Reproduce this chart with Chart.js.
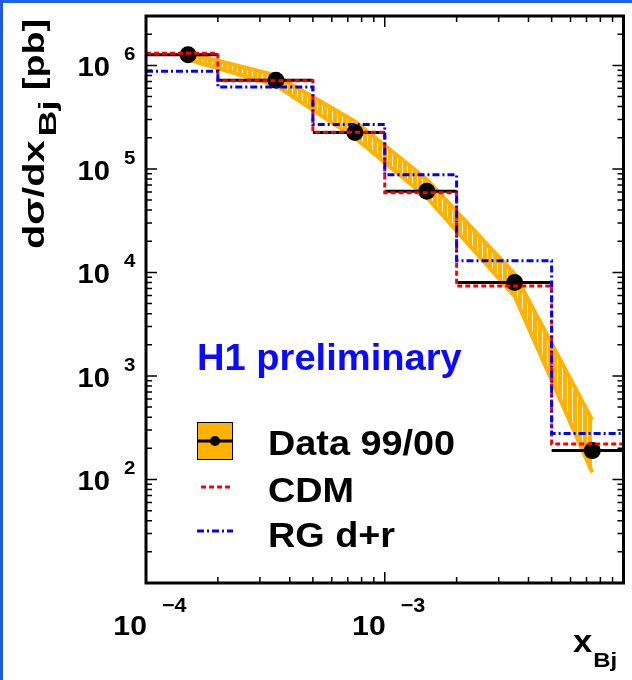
<!DOCTYPE html>
<html>
<head>
<meta charset="utf-8">
<script src="https://cdn.jsdelivr.net/npm/chart.js@4.4.1/dist/chart.umd.min.js"></script>
<style>
  html, body { margin: 0; padding: 0; background: #fff; }
  #wrap { width: 632px; height: 680px; }
</style>
</head>
<body>
<div id="wrap"><canvas id="xsec" width="632" height="680"></canvas></div>
<script>
// bins in x_Bj and the cross sections per bin (pb)
const binEdges = [1e-4, 2e-4, 5e-4, 1e-3, 2e-3, 5e-3, 1e-2];
const dataX = [1.5e-4, 3.5e-4, 7.5e-4, 1.5e-3, 3.5e-3, 7.4e-3];
const dataY = [1.27e6, 7.2e5, 2.25e5, 6.1e4, 8.0e3, 190];
// uncertainty band through the data points
const bandUp = [1.31e6, 8.0e5, 2.87e5, 7.9e4, 9.7e3, 374];
const bandLow = [1.14e6, 6.4e5, 2.0e5, 5.3e4, 5.9e3, 117];
// model predictions
const cdm = [1.31e6, 7.1e5, 2.26e5, 5.9e4, 7.4e3, 220];
const rgdr = [8.8e5, 6.2e5, 2.69e5, 8.8e4, 1.30e4, 278];
// decades that get a label
const xExps = [-4, -3];
const yExps = [2, 3, 4, 5, 6];

const ORANGE = '#ffb300';
const FONT = '"Liberation Sans", Arial, sans-serif';

const ctx = document.getElementById('xsec').getContext('2d');

function hatch() {
    const c = document.createElement('canvas');
    c.width = 5; c.height = 4;
    const g = c.getContext('2d');
    g.fillStyle = ORANGE;
    g.fillRect(0, 0, 5, 4);
    g.fillStyle = '#fff4dc';
    g.fillRect(2, 0, 1, 4);
    return ctx.createPattern(c, 'repeat');
}

// histogram outline: point at every left edge plus the last right edge
function steps(vals) {
    const pts = vals.map((v, i) => ({ x: binEdges[i], y: v }));
    pts.push({ x: binEdges[binEdges.length - 1], y: vals[vals.length - 1] });
    return pts;
}

// separate horizontal bars, one per bin
function bars(vals) {
    const pts = [];
    vals.forEach((v, i) => {
        pts.push({ x: binEdges[i], y: v }, { x: binEdges[i + 1], y: v }, { x: binEdges[i + 1], y: null });
    });
    return pts;
}

function txt(s, x, y, size, o) {
    o = o || {};
    const sx = o.sx || 1.08;
    ctx.save();
    ctx.translate(x, y);
    if (o.rot) ctx.rotate(o.rot);
    ctx.scale(sx, 1);
    ctx.font = 'bold ' + size + 'px ' + FONT;
    ctx.textAlign = o.align || 'left';
    ctx.textBaseline = 'alphabetic';
    ctx.fillStyle = o.color || '#000';
    ctx.fillText(s, 0, 0);
    const w = ctx.measureText(s).width * sx;
    ctx.restore();
    return w;
}

const frame = {
    id: 'frame',
    afterDraw(chart) {
        const a = chart.chartArea;
        const xs = chart.scales.x, ys = chart.scales.y;

        // page border
        ctx.save();
        ctx.fillStyle = '#1a62ff';
        ctx.fillRect(0, 0, 632, 3);
        ctx.fillStyle = '#2458e0';
        ctx.fillRect(0, 0, 3, 680);

        // inward ticks on all four sides
        ctx.strokeStyle = '#000';
        ctx.lineWidth = 1.5;
        ctx.beginPath();
        for (let e = -4; e <= -2; e++) {
            for (let m = 1; m <= 9; m++) {
                const v = m * Math.pow(10, e);
                if (v < xs.min || v > xs.max) continue;
                const px = xs.getPixelForValue(v);
                const len = m === 1 ? 11 : 6;
                ctx.moveTo(px, a.bottom); ctx.lineTo(px, a.bottom - len);
                ctx.moveTo(px, a.top); ctx.lineTo(px, a.top + len);
            }
        }
        for (let e = 1; e <= 6; e++) {
            for (let m = 1; m <= 9; m++) {
                const v = m * Math.pow(10, e);
                if (v < ys.min || v > ys.max) continue;
                const py = ys.getPixelForValue(v);
                const len = m === 1 ? 11 : 6;
                ctx.moveTo(a.left, py); ctx.lineTo(a.left + len, py);
                ctx.moveTo(a.right, py); ctx.lineTo(a.right - len, py);
            }
        }
        ctx.stroke();

        ctx.lineWidth = 3;
        ctx.strokeRect(a.left, a.top, a.right - a.left, a.bottom - a.top);
        ctx.restore();

        // tick labels
        yExps.forEach(e => {
            const py = ys.getPixelForValue(Math.pow(10, e));
            txt('10', 110, py + 11, 27, { align: 'right' });
            txt(String(e), 124, py - 5, 19);
        });
        xExps.forEach(e => {
            const px = xs.getPixelForValue(Math.pow(10, e));
            txt('10', px + 1, 635, 28, { align: 'right' });
            txt('\u2212' + Math.abs(e), px + 16, 612, 20);
        });

        // axis titles
        const rot = -Math.PI / 2;
        let off = 249;
        off -= txt('d\u03c3/dx', 44, off, 30, { rot, sx: 1.32 });
        off -= txt('Bj', 56, off - 4, 24, { rot, sx: 1.5 }) + 4;
        txt(' [pb]', 44, off, 29, { rot, sx: 1.3 });

        const w = txt('x', 573, 652, 32);
        txt('Bj', 573 + w + 1, 667, 20, { sx: 1.2 });

        txt('H1 preliminary', 197, 370, 37, { color: '#0a0aff', sx: 1.03 });

        // legend
        ctx.save();
        ctx.fillStyle = ORANGE;
        ctx.fillRect(197, 422, 36, 38);
        ctx.strokeStyle = '#000';
        ctx.lineWidth = 1;
        ctx.strokeRect(197.5, 422.5, 35, 37);
        ctx.lineWidth = 3;
        ctx.beginPath();
        ctx.moveTo(197, 441); ctx.lineTo(233, 441);
        ctx.stroke();
        ctx.fillStyle = '#000';
        ctx.beginPath();
        ctx.arc(215, 441, 5, 0, Math.PI * 2);
        ctx.fill();

        ctx.lineWidth = 3;
        ctx.strokeStyle = '#ff0000';
        ctx.setLineDash([5, 3]);
        ctx.beginPath();
        ctx.moveTo(201, 487); ctx.lineTo(233, 487);
        ctx.stroke();
        ctx.strokeStyle = '#0000ff';
        ctx.setLineDash([7, 3, 2, 3]);
        ctx.beginPath();
        ctx.moveTo(197, 531); ctx.lineTo(233, 531);
        ctx.stroke();
        ctx.restore();

        txt('Data 99/00', 268, 455, 35);
        txt('CDM', 268, 502, 35);
        txt('RG d+r', 268, 547, 35);
    }
};

new Chart(ctx, {
    type: 'line',
    data: {
        datasets: [
            {
                label: 'RG d+r',
                data: steps(rgdr),
                stepped: true,
                borderColor: '#0000ff',
                borderWidth: 3,
                borderDash: [7, 3, 2, 3],
                pointRadius: 0,
                fill: false,
                order: 0
            },
            {
                label: 'CDM',
                data: steps(cdm),
                stepped: true,
                borderColor: '#ff0000',
                borderWidth: 3,
                borderDash: [5, 3],
                pointRadius: 0,
                fill: false,
                order: 1
            },
            {
                label: 'Data 99/00',
                data: dataX.map((x, i) => ({ x: x, y: dataY[i] })),
                showLine: false,
                pointRadius: 8.5,
                pointBorderWidth: 0,
                pointBackgroundColor: '#000',
                order: 2
            },
            {
                label: 'bins',
                data: bars(dataY),
                borderColor: '#000',
                borderWidth: 3,
                pointRadius: 0,
                spanGaps: false,
                fill: false,
                order: 3
            },
            {
                label: 'band up',
                data: dataX.map((x, i) => ({ x: x, y: bandUp[i] })),
                borderColor: ORANGE,
                borderWidth: 4,
                backgroundColor: hatch(),
                fill: '+1',
                pointRadius: 0,
                order: 5
            },
            {
                label: 'band low',
                data: dataX.map((x, i) => ({ x: x, y: bandLow[i] })),
                borderColor: ORANGE,
                borderWidth: 4,
                pointRadius: 0,
                fill: false,
                order: 4
            }
        ]
    },
    options: {
        responsive: false,
        animation: false,
        events: [],
        layout: { padding: { left: 146, top: 16, right: 7, bottom: 97 } },
        plugins: {
            legend: { display: false },
            tooltip: { enabled: false }
        },
        scales: {
            x: { type: 'logarithmic', min: 1e-4, max: 1e-2, display: false },
            y: { type: 'logarithmic', min: 10, max: 3e6, display: false }
        }
    },
    plugins: [frame]
});
</script>
</body>
</html>
